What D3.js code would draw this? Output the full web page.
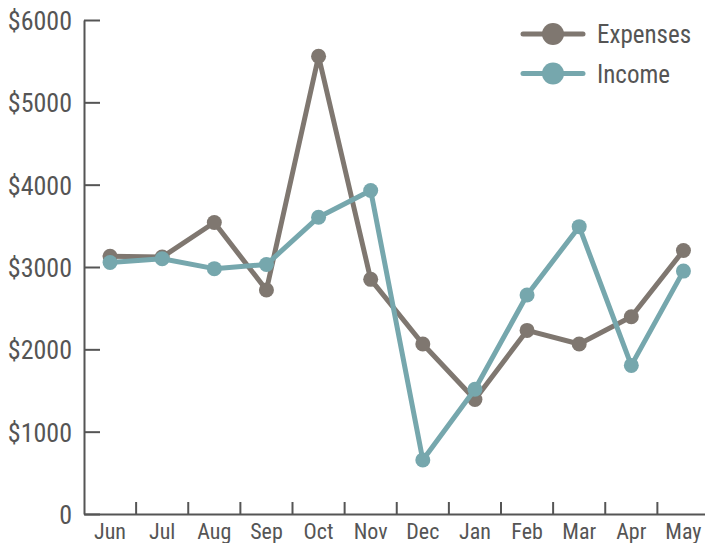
<!DOCTYPE html>
<html>
<head>
<meta charset="utf-8">
<script src="https://cdn.jsdelivr.net/npm/d3@7/dist/d3.min.js"></script>
<style>
  html, body { margin: 0; padding: 0; background: #fff; }
  svg text { font-family: "Liberation Sans Narrow", "Arial Narrow", "Roboto Condensed", sans-serif; fill: #555; }
</style>
</head>
<body>
<svg id="chart" width="705" height="543"></svg>
<script>
// Monthly figures, June through May
const months = ["Jun", "Jul", "Aug", "Sep", "Oct", "Nov", "Dec", "Jan", "Feb", "Mar", "Apr", "May"];
const expenses = [3130, 3120, 3540, 2720, 5560, 2850, 2065, 1390, 2230, 2065, 2395, 3200];
const income   = [3055, 3100, 2980, 3030, 3605, 3930, 655, 1515, 2660, 3490, 1805, 2950];
const yTicks = [0, 1000, 2000, 3000, 4000, 5000, 6000];
const seriesNames = ["Expenses", "Income"];
const seriesColors = ["#7f7770", "#76a7ad"];

const svg = d3.select("#chart");
const plotLeft = 84, plotRight = 709.5, plotTop = 20, plotBottom = 514;

const x = d3.scaleBand().domain(months).range([plotLeft, plotRight]).padding(0);
const y = d3.scaleLinear().domain([0, 6000]).range([plotBottom, plotTop]);

const axisColor = "#555";

// Y axis with inward ticks
const yAxis = svg.append("g")
  .attr("transform", `translate(${plotLeft},0)`)
  .call(d3.axisLeft(y).tickValues(yTicks).tickSizeInner(-16).tickSizeOuter(0).tickPadding(12)
    .tickFormat(d => d === 0 ? "0" : "$" + d));
yAxis.select(".domain").attr("stroke", axisColor).attr("stroke-width", 2);
yAxis.selectAll(".tick line").attr("stroke", axisColor).attr("stroke-width", 2);
yAxis.selectAll(".tick text").attr("font-size", 26).style("fill", "#555").attr("dy", "0.36em");

// X axis: labels at month centres, ticks at month boundaries
const xAxis = svg.append("g")
  .attr("transform", `translate(0,${plotBottom})`)
  .call(d3.axisBottom(x).tickSize(0).tickPadding(9));
xAxis.select(".domain").attr("stroke", axisColor).attr("stroke-width", 2);
xAxis.selectAll(".tick text").attr("font-size", 22).style("fill", "#555").attr("dy", "0.72em");

xAxis.selectAll(".boundary")
  .data(months.slice(1))
  .join("line")
  .attr("class", "boundary")
  .attr("x1", d => x(d)).attr("x2", d => x(d))
  .attr("y1", 0).attr("y2", -12)
  .attr("stroke", axisColor).attr("stroke-width", 2);

// Series lines and markers
const line = d3.line().x((d, i) => x(months[i]) + x.bandwidth() / 2).y(d => y(d));
[expenses, income].forEach((vals, k) => {
  const g = svg.append("g");
  g.append("path")
    .datum(vals)
    .attr("d", line)
    .attr("fill", "none")
    .attr("stroke", seriesColors[k])
    .attr("stroke-width", 5)
    .attr("stroke-linejoin", "round");
  g.selectAll("circle")
    .data(vals)
    .join("circle")
    .attr("cx", (d, i) => x(months[i]) + x.bandwidth() / 2)
    .attr("cy", d => y(d))
    .attr("r", 7.5)
    .attr("fill", seriesColors[k]);
});

// Legend
const legend = svg.append("g");
seriesNames.forEach((name, k) => {
  const ly = 34 + k * 39.5;
  legend.append("line")
    .attr("x1", 523).attr("x2", 583).attr("y1", ly).attr("y2", ly)
    .attr("stroke", seriesColors[k]).attr("stroke-width", 5).attr("stroke-linecap", "round");
  legend.append("circle")
    .attr("cx", 553).attr("cy", ly).attr("r", 11).attr("fill", seriesColors[k]);
  legend.append("text")
    .attr("x", 597).attr("y", ly).attr("dy", "0.36em")
    .attr("font-size", 25)
    .text(name);
});
</script>
</body>
</html>
